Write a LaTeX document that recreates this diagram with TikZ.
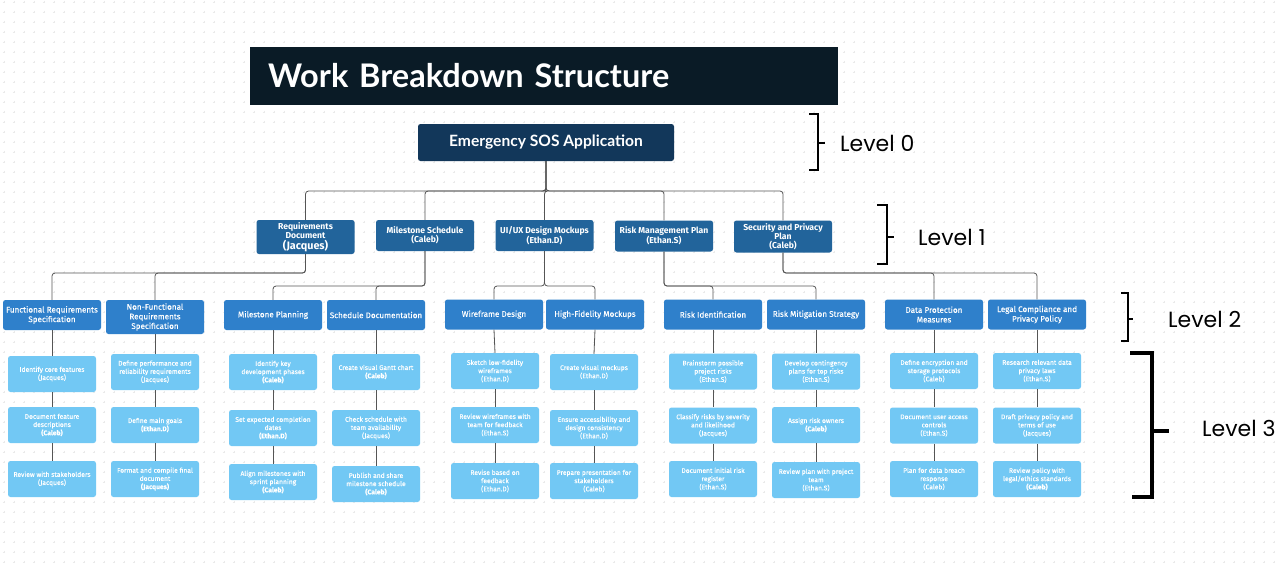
\documentclass[tikz,border=0pt]{standalone}
\usepackage{fontspec}
\setmainfont{Fira Sans}
\newfontfamily\latof{Lato}
\newfontfamily\popf{Poppins}
\newfontfamily\firamed{Fira Sans}[FakeBold=0.3]
\definecolor{ct}{HTML}{0A1B26}
\definecolor{c0}{HTML}{12375A}
\definecolor{c1}{HTML}{22649B}
\definecolor{c2}{HTML}{2F80CB}
\definecolor{c3}{HTML}{72C8F4}
\definecolor{cconn}{HTML}{555555}
\definecolor{cgrid}{HTML}{EAEAEA}
\tikzset{
  titlebar/.style={fill=ct, minimum height=58, text width=552, inner xsep=18, align=left, text=white, font=\latof\bfseries\fontsize{32.5}{34}\selectfont},
  lvlzero/.style={fill=c0, rounded corners=2.5, minimum width=256, minimum height=37, text=white, font=\latof\bfseries\fontsize{15.6}{17}\selectfont},
  lvlone/.style={fill=c1, rounded corners=2.5, minimum width=98, minimum height=31, inner sep=1, align=center, text=white, font=\bfseries\fontsize{8.6}{9}\selectfont},
  lvltwo/.style={fill=c2, rounded corners=2.5, minimum width=98, minimum height=30, inner sep=1, align=center, text=white, font=\firamed\fontsize{8.1}{9.6}\selectfont},
  lvlthree/.style={fill=c3, rounded corners=2.5, minimum width=88, minimum height=36, inner sep=1, align=center, text=white, font=\firamed\fontsize{6.7}{8.2}\selectfont},
  conn/.style={draw=cconn, line width=0.8, rounded corners=3},
  bracket/.style={draw=black, line width=1.3},
  levellabel/.style={anchor=west, inner sep=0, font=\popf\fontsize{22}{24}\selectfont}
}
\begin{document}
\begin{tikzpicture}[x=1pt,y=-1pt]
\useasboundingbox (0,0) rectangle (1276,566);
\fill[white] (0,0) rectangle (1276,566);
\draw[cgrid, line width=0.5] \foreach \x in {4,14,...,1274} { \foreach \y in {2,12,...,562} { (\x-1.3,\y) -- (\x+1.3,\y) (\x,\y-1.3) -- (\x,\y+1.3) } };

% title
\node[titlebar] (title) at (544,76) {Work Breakdown Structure};

% level 0
\node[lvlzero] (root) at (546,142.5) {Emergency SOS Application};

% level 1
\node[lvlone, minimum height=34] (La) at (305.5,237) {Requirements\\Document\\{\fontsize{10.8}{10.8}\selectfont(Jacques)}};
\node[lvlone] (Lb) at (425,235.5) {Milestone Schedule\\(Caleb)};
\node[lvlone] (Lc) at (544.5,235.5) {UI/UX Design Mockups\\(Ethan.D)};
\node[lvlone] (Ld) at (664,236) {Risk Management Plan\\(Ethan.S)};
\node[lvlone, minimum height=32] (Le) at (783,236.5) {Security and Privacy\\Plan\\(Caleb)};

% level 2
\node[lvltwo] (A) at (52,315) {Functional Requirements\\Specification};
\node[lvltwo, minimum height=34] (B) at (155,317) {Non-Functional\\Requirements\\Specification};
\node[lvltwo] (C) at (273,315) {Milestone Planning};
\node[lvltwo] (D) at (376,315) {Schedule Documentation};
\node[lvltwo] (E) at (494,314.5) {Wireframe Design};
\node[lvltwo] (F) at (595,314.5) {High-Fidelity Mockups};
\node[lvltwo] (G) at (713,314.5) {Risk Identification};
\node[lvltwo] (H) at (816,314.5) {Risk Mitigation Strategy};
\node[lvltwo] (I) at (934,314.5) {Data Protection\\Measures};
\node[lvltwo] (J) at (1037,314.5) {Legal Compliance and\\Privacy Policy};

% level 3
\node[lvlthree] (A1) at (52,374) {Identify core features\\(Jacques)};
\node[lvlthree] (A2) at (52,425) {Document feature\\descriptions\\\textbf{(Caleb)}};
\node[lvlthree] (A3) at (52,479) {Review with stakeholders\\(Jacques)};

\node[lvlthree] (B1) at (155,372) {Define performance and\\reliability requirements\\(Jacques)};
\node[lvlthree] (B2) at (155,425) {Define main goals\\\textbf{(Ethan.D)}};
\node[lvlthree] (B3) at (155,479) {Format and compile final\\document\\\textbf{(Jacques)}};

\node[lvlthree] (C1) at (273,372) {Identify key\\development phases\\\textbf{(Caleb)}};
\node[lvlthree] (C2) at (273,428) {Set expected completion\\dates\\\textbf{(Ethan.D)}};
\node[lvlthree] (C3) at (273,482) {Align milestones with\\sprint planning\\\textbf{(Caleb)}};

\node[lvlthree] (D1) at (376,372) {Create visual Gantt chart\\\textbf{(Caleb)}};
\node[lvlthree] (D2) at (376,428) {Check schedule with\\team availability\\(Jacques)};
\node[lvlthree] (D3) at (376,484) {Publish and share\\milestone schedule\\\textbf{(Caleb)}};

\node[lvlthree] (E1) at (495,371) {Sketch low-fidelity\\wireframes\\(Ethan.D)};
\node[lvlthree] (E2) at (495,425) {Review wireframes with\\team for feedback\\(Ethan.S)};
\node[lvlthree] (E3) at (495,481) {Revise based on\\feedback\\(Ethan.D)};

\node[lvlthree] (F1) at (594,372) {Create visual mockups\\(Ethan.D)};
\node[lvlthree] (F2) at (594,428) {Ensure accessibility and\\design consistency\\(Ethan.D)};
\node[lvlthree] (F3) at (594,481) {Prepare presentation for\\stakeholders\\(Caleb)};

\node[lvlthree] (G1) at (713,371.5) {Brainstorm possible\\project risks\\(Ethan.S)};
\node[lvlthree] (G2) at (713,425.5) {Classify risks by severity\\and likelihood\\(Jacques)};
\node[lvlthree] (G3) at (713,479) {Document initial risk\\register\\(Ethan.S)};

\node[lvlthree] (H1) at (816,371.5) {Develop contingency\\plans for top risks\\(Ethan.S)};
\node[lvlthree] (H2) at (816,425) {Assign risk owners\\\textbf{(Caleb)}};
\node[lvlthree] (H3) at (816,480) {Review plan with project\\team\\(Ethan.S)};

\node[lvlthree] (I1) at (934,371) {Define encryption and\\storage protocols\\(Caleb)};
\node[lvlthree] (I2) at (934,425.5) {Document user access\\controls\\(Ethan.S)};
\node[lvlthree] (I3) at (934,479) {Plan for data breach\\response\\(Caleb)};

\node[lvlthree] (J1) at (1037,371) {Research relevant data\\privacy laws\\(Ethan.S)};
\node[lvlthree] (J2) at (1037,425.5) {Draft privacy policy and\\terms of use\\(Jacques)};
\node[lvlthree] (J3) at (1037,479) {Review policy with\\legal/ethics standards\\\textbf{(Caleb)}};

% buses
\coordinate (bus0) at (0,191);
\coordinate (busA) at (0,273);
\coordinate (busB) at (0,286);

% connectors level 0 -> 1
\foreach \c in {La,Lb,Lc,Ld,Le} {
  \draw[conn] (root.south) -- (root.south |- bus0) -| (\c.north);
}
% level 1 -> 2
\foreach \p/\c in {La/A,La/B,Le/I,Le/J} {
  \draw[conn] (\p.south) -- (\p.south |- busA) -| (\c.north);
}
\foreach \p/\c in {Lb/C,Lb/D,Lc/E,Lc/F,Ld/G,Ld/H} {
  \draw[conn] (\p.south) -- (\p.south |- busB) -| (\c.north);
}
% level 2 -> 3
\foreach \p in {A,B,C,D,E,F,G,H,I,J} {
  \draw[conn] (\p.south) -- (\p1.north);
  \draw[conn] (\p1.south) -- (\p2.north);
  \draw[conn] (\p2.south) -- (\p3.north);
}

% brackets and level labels
\draw[bracket] (809,114) -- (818,114) -- (818,170) -- (809,170) (818,143) -- (825,143);
\node[levellabel] (lv0) at (840,143) {Level 0};
\draw[bracket] (877,205) -- (887,205) -- (887,264) -- (877,264) (887,237) -- (894,237);
\node[levellabel] (lv1) at (918,237) {Level 1};
\draw[bracket] (1121,293) -- (1128,293) -- (1128,341) -- (1121,341) (1128,319) -- (1133,319);
\node[levellabel] (lv2) at (1168,319) {Level 2};
\draw[bracket, line width=3.5] (1130,353) -- (1152,353) -- (1152,497) -- (1132,497) (1152,431) -- (1169,431);
\node[levellabel] (lv3) at (1202,428) {Level 3};
\end{tikzpicture}
\end{document}
